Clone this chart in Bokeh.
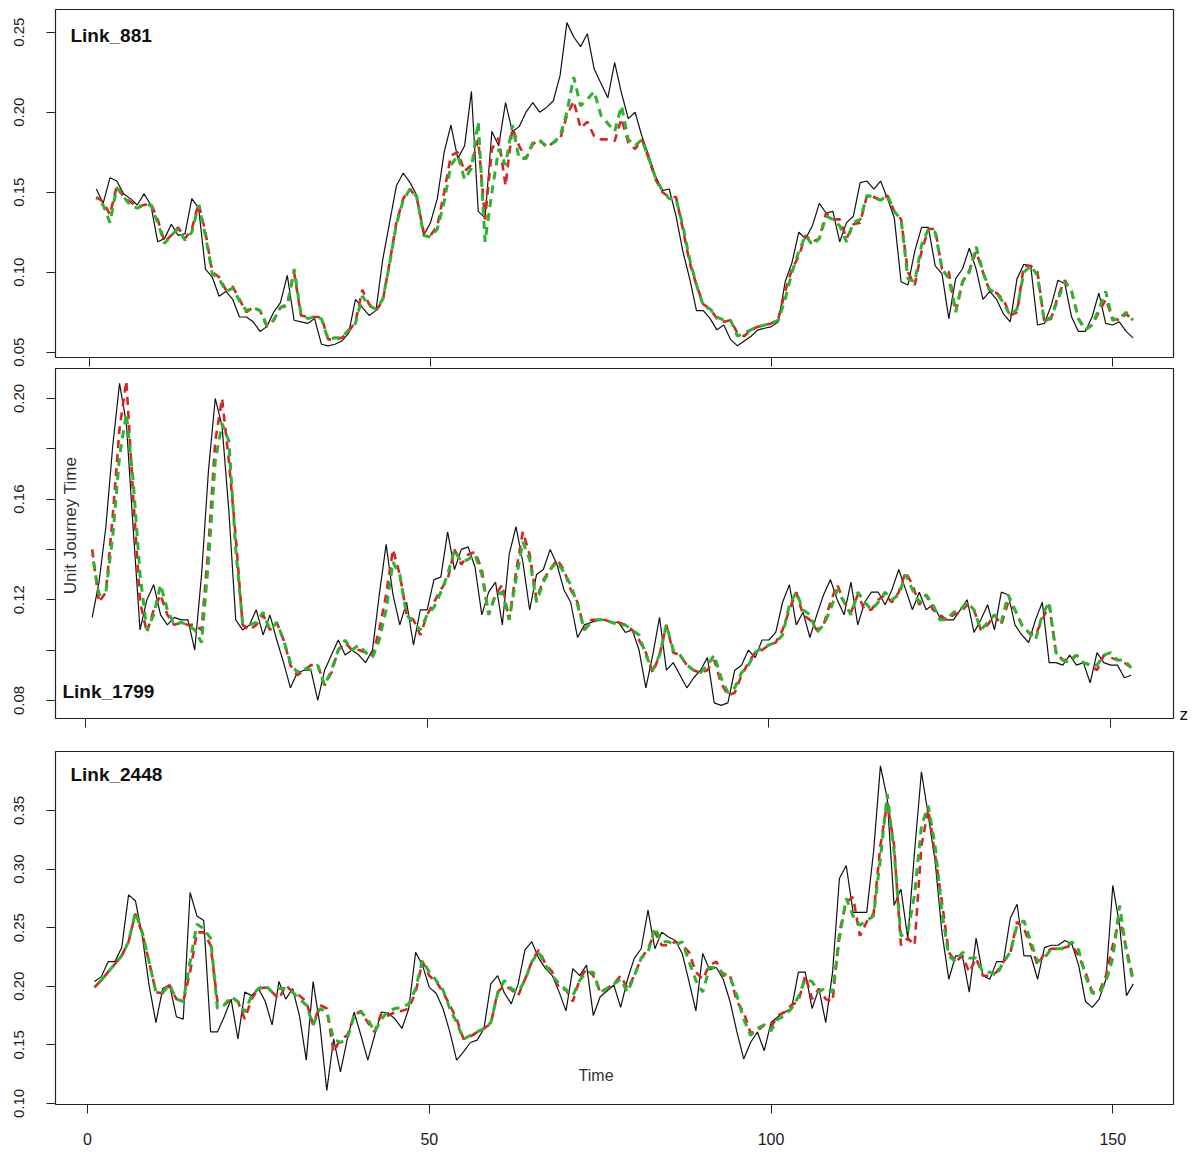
from math import pi
from bokeh.plotting import figure
from bokeh.layouts import column
from bokeh.models import (Label, FixedTicker, Range1d, NumeralTickFormatter,
                          CustomLabelingPolicy, LinearAxis, CustomJSTickFormatter)
from bokeh.embed import file_html
from bokeh.resources import INLINE

time = list(range(1, 154))
x_ticks = [0, 50, 100, 150]

# ---------------- Link_881 ----------------
link881_actual = [
    0.152, 0.143, 0.159, 0.157, 0.149, 0.146, 0.142, 0.149, 0.142, 0.119,
    0.121, 0.130, 0.123, 0.124, 0.146, 0.140, 0.102, 0.097, 0.085, 0.088,
    0.083, 0.072, 0.072, 0.069, 0.063, 0.066, 0.075, 0.081, 0.098, 0.070,
    0.069, 0.068, 0.071, 0.055, 0.054, 0.055, 0.057, 0.062, 0.083, 0.078,
    0.073, 0.076, 0.108, 0.131, 0.154, 0.162, 0.156, 0.148, 0.123, 0.131,
    0.146, 0.175, 0.192, 0.171, 0.179, 0.213, 0.138, 0.134, 0.188, 0.179,
    0.206, 0.188, 0.191, 0.200, 0.206, 0.200, 0.203, 0.207, 0.223, 0.256,
    0.247, 0.241, 0.249, 0.227, 0.218, 0.209, 0.231, 0.212, 0.196, 0.200,
    0.185, 0.173, 0.160, 0.151, 0.152, 0.135, 0.113, 0.096, 0.076, 0.076,
    0.071, 0.064, 0.067, 0.058, 0.054, 0.057, 0.060, 0.064, 0.065, 0.066,
    0.069, 0.094, 0.106, 0.125, 0.121, 0.129, 0.143, 0.137, 0.138, 0.119,
    0.131, 0.135, 0.156, 0.157, 0.152, 0.157, 0.146, 0.134, 0.094, 0.092,
    0.113, 0.128, 0.128, 0.104, 0.099, 0.071, 0.096, 0.102, 0.115, 0.102,
    0.083, 0.088, 0.083, 0.074, 0.069, 0.096, 0.105, 0.104, 0.067, 0.068,
    0.079, 0.095, 0.093, 0.072, 0.063, 0.063, 0.072, 0.087, 0.068, 0.067,
    0.069, 0.063, 0.059]
link881_red = [
    0.147, 0.144, 0.136, 0.154, 0.147, 0.144, 0.141, 0.142, 0.143, 0.133,
    0.119, 0.123, 0.128, 0.121, 0.127, 0.143, 0.125, 0.100, 0.097, 0.089,
    0.091, 0.083, 0.075, 0.078, 0.076, 0.066, 0.070, 0.078, 0.080, 0.100,
    0.073, 0.072, 0.072, 0.072, 0.058, 0.058, 0.059, 0.063, 0.069, 0.089,
    0.080, 0.076, 0.082, 0.106, 0.131, 0.146, 0.152, 0.146, 0.125,
    0.123, 0.129, 0.150, 0.173, 0.175, 0.163, 0.167, 0.183, 0.133, 0.177,
    0.184, 0.154, 0.190, 0.179, 0.171, 0.180, 0.183, 0.178, 0.181, 0.183,
    0.198, 0.207, 0.190, 0.194, 0.185, 0.183, 0.183, 0.182, 0.196, 0.181,
    0.177, 0.183, 0.171, 0.158, 0.150, 0.147, 0.147, 0.127, 0.106, 0.092,
    0.080, 0.077, 0.071, 0.069, 0.070, 0.062, 0.060, 0.064, 0.066, 0.067,
    0.068, 0.071, 0.088, 0.102, 0.110, 0.123,
    0.119, 0.121, 0.137, 0.133, 0.133, 0.121, 0.130, 0.131, 0.148, 0.147,
    0.145, 0.148, 0.138, 0.133, 0.100, 0.092, 0.113, 0.127, 0.127, 0.102,
    0.100, 0.075, 0.094, 0.101, 0.113, 0.100, 0.088, 0.087, 0.083, 0.073,
    0.075, 0.104, 0.104, 0.100, 0.069, 0.071, 0.085, 0.095, 0.088, 0.071,
    0.064, 0.067, 0.075, 0.083, 0.071, 0.070, 0.074, 0.070]
link881_green = [
    0.146, 0.142, 0.131, 0.153, 0.147, 0.142, 0.140, 0.142, 0.142, 0.131,
    0.118, 0.123, 0.127, 0.120, 0.125, 0.142, 0.123, 0.099, 0.096, 0.088,
    0.090, 0.082, 0.076, 0.078, 0.076, 0.067, 0.070, 0.078, 0.079, 0.102,
    0.074, 0.071, 0.072, 0.071, 0.058, 0.059, 0.059, 0.064, 0.068, 0.085,
    0.079, 0.077, 0.083, 0.105, 0.130, 0.145, 0.152, 0.147, 0.123,
    0.122, 0.127, 0.144, 0.167, 0.173, 0.158, 0.165, 0.194, 0.119, 0.150,
    0.177, 0.167, 0.192, 0.171, 0.171, 0.181, 0.182, 0.179, 0.181, 0.185,
    0.200, 0.222, 0.204, 0.208, 0.213, 0.198, 0.193, 0.188, 0.204, 0.183,
    0.179, 0.183, 0.171, 0.159, 0.151, 0.146, 0.146, 0.129, 0.108, 0.092,
    0.079, 0.077, 0.072, 0.070, 0.070, 0.060, 0.062, 0.064, 0.066, 0.067,
    0.068, 0.070, 0.083, 0.100, 0.113, 0.123,
    0.117, 0.121, 0.135, 0.133, 0.129, 0.119, 0.131, 0.133, 0.148, 0.147,
    0.145, 0.148, 0.138, 0.133, 0.096, 0.094, 0.117, 0.127, 0.125, 0.102,
    0.096, 0.075, 0.094, 0.100, 0.116, 0.100, 0.089, 0.087, 0.081, 0.073,
    0.077, 0.100, 0.104, 0.098, 0.069, 0.072, 0.083, 0.094, 0.088, 0.071,
    0.064, 0.067, 0.077, 0.088, 0.070, 0.071, 0.075, 0.070]

# ---------------- Link_1799 ----------------
link1799_actual = [
    0.113, 0.127, 0.149, 0.181, 0.206, 0.190, 0.148, 0.108, 0.120, 0.126,
    0.114, 0.110, 0.113, 0.112, 0.112, 0.100, 0.130, 0.171, 0.200, 0.189,
    0.155, 0.112, 0.108, 0.110, 0.116, 0.106, 0.114, 0.104, 0.095, 0.085,
    0.091, 0.092, 0.092, 0.080, 0.092, 0.098, 0.104, 0.098, 0.100, 0.098,
    0.095, 0.100, 0.122, 0.142, 0.122, 0.110, 0.119, 0.102, 0.116, 0.116, 0.128,
    0.129, 0.147, 0.132, 0.140, 0.141, 0.133, 0.114, 0.123, 0.127, 0.110,
    0.138, 0.149, 0.135, 0.116, 0.130, 0.132, 0.140, 0.134, 0.124, 0.119,
    0.105, 0.110, 0.111, 0.112, 0.112, 0.111, 0.111, 0.107, 0.108, 0.100,
    0.085, 0.098, 0.113, 0.092, 0.095, 0.090, 0.085, 0.089, 0.092, 0.097,
    0.079, 0.078, 0.079, 0.092, 0.094, 0.100, 0.097, 0.104, 0.104, 0.107,
    0.119, 0.126, 0.110, 0.115,
    0.105, 0.114, 0.122, 0.128, 0.120, 0.114, 0.127, 0.110, 0.119, 0.123,
    0.123, 0.118, 0.124, 0.132, 0.124, 0.116, 0.123, 0.116, 0.118, 0.113,
    0.112, 0.112, 0.116, 0.120, 0.107, 0.112, 0.118, 0.108, 0.123, 0.122,
    0.110, 0.106, 0.103, 0.112, 0.119, 0.095, 0.095, 0.094, 0.098, 0.094,
    0.095, 0.087, 0.099, 0.095, 0.094, 0.094, 0.089, 0.090]
link1799_red = [
    0.140, 0.119, 0.123, 0.153, 0.188, 0.207, 0.161, 0.119, 0.107, 0.116,
    0.122, 0.114, 0.110, 0.111, 0.110, 0.110, 0.108, 0.141, 0.183, 0.200,
    0.175, 0.145, 0.110, 0.108, 0.110, 0.114, 0.108, 0.111, 0.104, 0.094,
    0.090, 0.092, 0.094, 0.094, 0.086, 0.091, 0.100, 0.103, 0.100, 0.100,
    0.099, 0.098, 0.108, 0.122, 0.140, 0.130, 0.114, 0.112, 0.106, 0.114, 0.119,
    0.124, 0.128, 0.140, 0.134, 0.138, 0.139, 0.132, 0.114, 0.122, 0.126,
    0.112, 0.131, 0.147, 0.138, 0.120, 0.128, 0.132, 0.136, 0.132, 0.124,
    0.119, 0.108, 0.112, 0.112, 0.112, 0.111, 0.111, 0.110, 0.108, 0.104,
    0.099, 0.091, 0.098, 0.110, 0.099, 0.098, 0.094, 0.092, 0.091, 0.092,
    0.096, 0.087, 0.082, 0.083, 0.090, 0.095, 0.099, 0.100, 0.102, 0.103,
    0.108, 0.116, 0.123, 0.114,
    0.112, 0.108, 0.110, 0.119, 0.126, 0.119, 0.115, 0.122, 0.116, 0.116,
    0.120, 0.122, 0.119, 0.123, 0.131, 0.126, 0.118, 0.122, 0.116, 0.114,
    0.112, 0.114, 0.115, 0.118, 0.116, 0.108, 0.110, 0.114, 0.110, 0.119,
    0.116, 0.110, 0.107, 0.106, 0.112, 0.118, 0.099, 0.096, 0.096, 0.098,
    0.095, 0.094, 0.092, 0.098, 0.097, 0.096, 0.095, 0.093]
link1799_green = [
    0.138, 0.122, 0.123, 0.145, 0.177, 0.194, 0.167, 0.130, 0.108, 0.114,
    0.126, 0.116, 0.110, 0.111, 0.110, 0.108, 0.103, 0.135, 0.175, 0.190,
    0.183, 0.140, 0.111, 0.110, 0.111, 0.115, 0.108, 0.111, 0.104, 0.095,
    0.091, 0.093, 0.092, 0.094, 0.086, 0.092, 0.100, 0.104, 0.100, 0.102,
    0.099, 0.097, 0.104, 0.116, 0.135, 0.130, 0.114, 0.111, 0.108, 0.114, 0.117,
    0.123, 0.130, 0.140, 0.135, 0.136, 0.138, 0.130, 0.114, 0.122, 0.123,
    0.112, 0.128, 0.143, 0.136, 0.119, 0.127, 0.132, 0.135, 0.131, 0.126,
    0.118, 0.108, 0.111, 0.112, 0.112, 0.111, 0.110, 0.110, 0.108, 0.106,
    0.098, 0.092, 0.098, 0.110, 0.100, 0.098, 0.094, 0.092, 0.091, 0.094,
    0.098, 0.089, 0.083, 0.085, 0.091, 0.094, 0.099, 0.101, 0.102, 0.103,
    0.106, 0.118, 0.123, 0.116,
    0.114, 0.107, 0.110, 0.116, 0.124, 0.119, 0.114, 0.123, 0.119, 0.116,
    0.119, 0.123, 0.120, 0.122, 0.130, 0.124, 0.119, 0.122, 0.118, 0.112,
    0.112, 0.115, 0.116, 0.119, 0.116, 0.108, 0.111, 0.114, 0.111, 0.122,
    0.116, 0.110, 0.107, 0.104, 0.114, 0.119, 0.099, 0.096, 0.095, 0.098,
    0.095, 0.094, 0.094, 0.098, 0.099, 0.096, 0.096, 0.093]

# ---------------- Link_2448 ----------------
link2448_actual = [
    0.204, 0.208, 0.221, 0.221, 0.233, 0.278, 0.273, 0.243, 0.201, 0.169,
    0.198, 0.201, 0.174, 0.172, 0.280, 0.260, 0.256, 0.161, 0.161, 0.174,
    0.189, 0.155, 0.195, 0.192, 0.198, 0.187, 0.167, 0.204, 0.189, 0.198,
    0.175, 0.137, 0.204, 0.167, 0.111, 0.155, 0.127, 0.155, 0.178, 0.158,
    0.137, 0.158, 0.178, 0.177, 0.172, 0.164, 0.181, 0.229, 0.218, 0.199, 0.194,
    0.181, 0.161, 0.137, 0.144, 0.152, 0.154, 0.164, 0.202, 0.209, 0.194,
    0.185, 0.202, 0.231, 0.238, 0.224, 0.215, 0.209, 0.195, 0.179, 0.215,
    0.209, 0.218, 0.175, 0.191, 0.196, 0.201, 0.182, 0.206, 0.224, 0.232,
    0.265, 0.232, 0.246, 0.242, 0.239, 0.228, 0.204, 0.179, 0.228, 0.214,
    0.216, 0.206, 0.187, 0.161, 0.138, 0.152, 0.161, 0.145, 0.169, 0.174,
    0.178, 0.181, 0.212, 0.212,
    0.181, 0.198, 0.169, 0.212, 0.292, 0.303, 0.263, 0.263, 0.263, 0.315,
    0.388, 0.360, 0.269, 0.283, 0.241, 0.315, 0.383, 0.346, 0.307, 0.246,
    0.206, 0.226, 0.226, 0.195, 0.241, 0.209, 0.206, 0.221, 0.221, 0.258,
    0.270, 0.226, 0.226, 0.206, 0.233, 0.235, 0.235, 0.239, 0.236, 0.218,
    0.187, 0.182, 0.189, 0.206, 0.286, 0.252, 0.192, 0.202]
link2448_red = [
    0.199, 0.205, 0.212, 0.219, 0.226, 0.238, 0.262, 0.245, 0.221, 0.195,
    0.194, 0.201, 0.189, 0.187, 0.212, 0.246, 0.246, 0.235, 0.187, 0.184,
    0.189, 0.187, 0.172, 0.189, 0.198, 0.199, 0.195, 0.189, 0.201, 0.195,
    0.192, 0.187, 0.167, 0.184, 0.181, 0.144, 0.155, 0.158, 0.175, 0.179,
    0.169, 0.161, 0.177, 0.175, 0.178, 0.179, 0.181, 0.195, 0.221, 0.209, 0.204,
    0.195, 0.184, 0.172, 0.155, 0.157, 0.161, 0.164, 0.168, 0.195, 0.201,
    0.197, 0.192, 0.206, 0.221, 0.231, 0.219, 0.212, 0.198, 0.197, 0.187,
    0.206, 0.215, 0.209, 0.195, 0.198, 0.202, 0.209, 0.198, 0.209, 0.224,
    0.232, 0.246, 0.235, 0.235, 0.238, 0.235, 0.229, 0.212, 0.206, 0.218,
    0.221, 0.209, 0.209, 0.187, 0.178, 0.160, 0.162, 0.167, 0.165, 0.175,
    0.178, 0.184, 0.187, 0.209,
    0.189, 0.198, 0.189, 0.187, 0.246, 0.272, 0.276, 0.243, 0.255, 0.262,
    0.320, 0.357, 0.320, 0.235, 0.241, 0.235, 0.320, 0.351, 0.312, 0.272,
    0.229, 0.221, 0.226, 0.212, 0.224, 0.209, 0.209, 0.212, 0.221, 0.228,
    0.255, 0.249, 0.235, 0.218, 0.228, 0.232, 0.232, 0.233, 0.235, 0.226,
    0.212, 0.195, 0.195, 0.209, 0.235, 0.258, 0.232, 0.206]
link2448_green = [
    0.199, 0.205, 0.212, 0.219, 0.226, 0.238, 0.263, 0.246, 0.221, 0.195,
    0.195, 0.201, 0.189, 0.187, 0.221, 0.253, 0.249, 0.241, 0.181, 0.184,
    0.191, 0.187, 0.178, 0.192, 0.198, 0.201, 0.195, 0.198, 0.198, 0.195,
    0.189, 0.184, 0.167, 0.181, 0.178, 0.155, 0.152, 0.155, 0.175, 0.178,
    0.172, 0.161, 0.172, 0.179, 0.181, 0.182, 0.185, 0.198, 0.222, 0.212, 0.205,
    0.197, 0.181, 0.169, 0.155, 0.158, 0.161, 0.164, 0.169, 0.194, 0.205,
    0.198, 0.195, 0.205, 0.221, 0.229, 0.218, 0.209, 0.202, 0.197, 0.192,
    0.205, 0.212, 0.212, 0.195, 0.198, 0.202, 0.206, 0.195, 0.209, 0.224,
    0.229, 0.250, 0.238, 0.238, 0.235, 0.238, 0.221, 0.205, 0.195, 0.216,
    0.216, 0.211, 0.208, 0.192, 0.172, 0.158, 0.164, 0.167, 0.162, 0.172,
    0.175, 0.181, 0.191, 0.206,
    0.204, 0.195, 0.199, 0.195, 0.241, 0.275, 0.260, 0.252, 0.256, 0.260,
    0.309, 0.364, 0.315, 0.243, 0.246, 0.278, 0.337, 0.354, 0.320, 0.263,
    0.226, 0.221, 0.229, 0.224, 0.224, 0.212, 0.212, 0.209, 0.221, 0.229,
    0.252, 0.256, 0.238, 0.221, 0.224, 0.232, 0.232, 0.232, 0.238, 0.231,
    0.209, 0.194, 0.194, 0.204, 0.224, 0.269, 0.229, 0.204]

for arr in (link881_actual, link881_red, link881_green, link1799_actual, link1799_red,
            link1799_green, link2448_actual, link2448_red, link2448_green):
    assert len(arr) == len(time), len(arr)

FONT = "Liberation Sans"
TXT = "#1a1a1a"
RED = "#d92424"
GREEN = "#2db32d"

NO_LABELS = CustomLabelingPolicy(code="""
for (const i of Array.from(indices)) { indices.unset(i) }
return indices
""")


def panel(height, b_top, b_bottom, b_left, b_right, xr, yr, yticks, yminor,
          actual, red, green, show_xlabels):
    p = figure(width=1200, height=height, output_backend="svg", toolbar_location=None,
               x_range=Range1d(*xr), y_range=Range1d(*yr),
               min_border_top=b_top, min_border_bottom=b_bottom,
               min_border_left=b_left, min_border_right=b_right)
    p.grid.visible = False
    p.outline_line_color = "#222222"
    p.outline_line_width = 1.2
    p.background_fill_color = "white"
    p.border_fill_color = "white"

    xa = p.xaxis[0]
    xa.ticker = FixedTicker(ticks=x_ticks)
    xa.axis_line_color = None
    xa.major_tick_in = 0
    xa.major_tick_out = 9
    xa.major_tick_line_color = "#222222"
    xa.minor_tick_line_color = None
    if show_xlabels:
        xa.major_label_text_font = FONT
        xa.major_label_text_font_size = "16px"
        xa.major_label_text_color = TXT
        xa.major_label_standoff = 19
    else:
        xa.major_label_text_font_size = "0px"
        xa.major_label_standoff = 0
        xa.major_label_policy = NO_LABELS

    ya = p.yaxis[0]
    ya.ticker = FixedTicker(ticks=yticks, minor_ticks=yminor)
    ya.formatter = NumeralTickFormatter(format="0.00")
    ya.axis_line_color = None
    ya.major_tick_in = 0
    ya.major_tick_out = 9
    ya.minor_tick_in = 0
    ya.minor_tick_out = 9
    ya.major_tick_line_color = "#222222"
    ya.minor_tick_line_color = "#222222"
    ya.major_label_orientation = "vertical"
    ya.major_label_text_font = FONT
    ya.major_label_text_font_size = "15px"
    ya.major_label_text_color = TXT
    ya.major_label_standoff = 22

    p.line(time, actual, line_color="#111111", line_width=1.2)
    p.line(time, red, line_color=RED, line_width=2.6, line_dash="8 6")
    p.line(time, green, line_color=GREEN, line_width=3, line_dash="8 6",
           line_dash_offset=7)
    return p


p1 = panel(367, 9, 10, 55, 27, (-4.985, 158.94), (0.0467, 0.2642),
           [0.05, 0.10, 0.15, 0.20, 0.25], [],
           link881_actual, link881_red, link881_green, False)
p1.add_layout(Label(x=-2.79, y=0.2417, text="Link_881", text_font=FONT,
                    text_font_style="bold", text_font_size="19px", text_color="#111111"))

p2 = panel(378, 1, 27, 53, 25, (-4.37, 159.19), (0.0728, 0.2119),
           [0.08, 0.12, 0.16, 0.20], [0.10, 0.14, 0.18],
           link1799_actual, link1799_red, link1799_green, False)
p2.add_layout(Label(x=-3.35, y=0.0792, text="Link_1799", text_font=FONT,
                    text_font_style="bold", text_font_size="19px", text_color="#111111"))
p2.add_layout(Label(x=-2.19, y=0.1495, text="Unit Journey Time", angle=pi / 2,
                    text_align="center", text_baseline="middle", text_font=FONT,
                    text_font_size="17px", text_color="#333333"))
# the stray "z" at the right of the middle panel, drawn as a right-side axis label
z_axis = LinearAxis(ticker=FixedTicker(ticks=[0.0745]),
                    formatter=CustomJSTickFormatter(code="return 'z'"),
                    axis_line_color=None, major_tick_line_color=None,
                    minor_tick_line_color=None, major_tick_out=0, major_tick_in=0,
                    major_label_standoff=6, major_label_orientation="horizontal",
                    major_label_text_font=FONT, major_label_text_font_size="17px",
                    major_label_text_color="#111111")
p2.add_layout(z_axis, "right")

p3 = panel(413, 6, 54, 51, 22, (-4.69, 158.88), (0.0991, 0.4003),
           [0.10, 0.15, 0.20, 0.25, 0.30, 0.35], [],
           link2448_actual, link2448_red, link2448_green, True)
p3.add_layout(Label(x=-2.51, y=0.372, text="Link_2448", text_font=FONT,
                    text_font_style="bold", text_font_size="19px", text_color="#111111"))
p3.add_layout(Label(x=74.4, y=0.124, text="Time", text_align="center",
                    text_baseline="middle", text_font=FONT, text_font_size="16px",
                    text_color="#333333"))

layout = column(p1, p2, p3, spacing=0)
open("out.html", "w").write(file_html(layout, INLINE))
